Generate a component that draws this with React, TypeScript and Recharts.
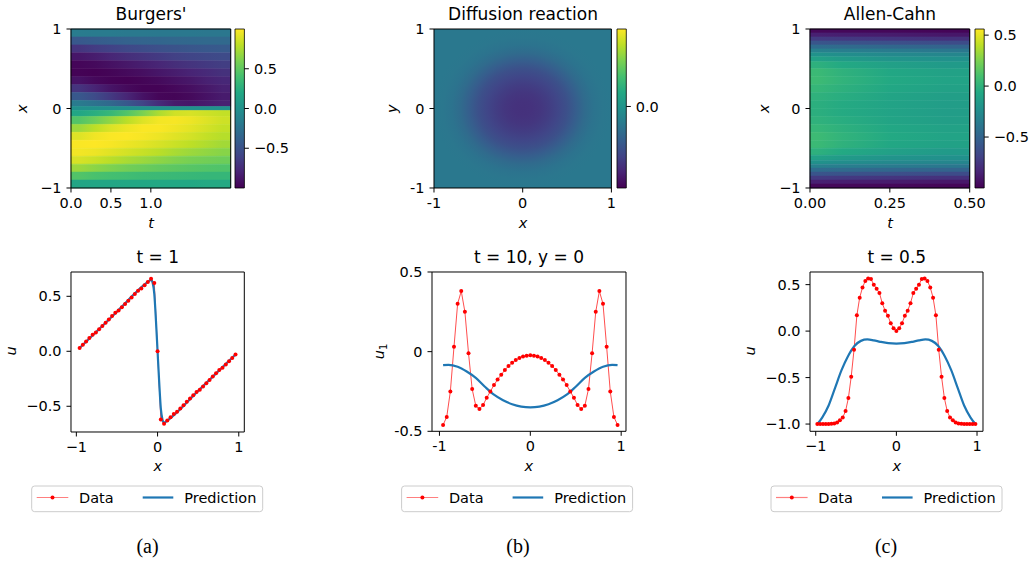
import React from "react"
import { ComposedChart, Line, XAxis, YAxis, ReferenceArea } from "recharts"

// ---------------- data ----------------

// Burgers' heatmap: column centres in t, row centres in x, u values (rows top -> bottom)
const burgersT = [0.1, 0.3, 0.5, 0.7, 0.9, 1.1, 1.3, 1.5, 1.7, 1.9]
const burgersX = [0.95, 0.85, 0.75, 0.65, 0.55, 0.45, 0.35, 0.25, 0.15, 0.05, 0, -0.05, -0.15, -0.25, -0.35, -0.45, -0.55, -0.65, -0.75, -0.85, -0.95]
const burgersU = [
  [-0.17, -0.18, -0.18, -0.19, -0.19, -0.2, -0.2, -0.2, -0.21, -0.21],
  [-0.45, -0.42, -0.4, -0.38, -0.36, -0.35, -0.34, -0.33, -0.32, -0.32],
  [-0.7, -0.65, -0.61, -0.57, -0.54, -0.51, -0.49, -0.47, -0.45, -0.44],
  [-0.88, -0.84, -0.79, -0.74, -0.7, -0.66, -0.62, -0.59, -0.57, -0.55],
  [-0.97, -0.95, -0.91, -0.87, -0.83, -0.79, -0.74, -0.7, -0.67, -0.64],
  [-0.99, -1.0, -0.98, -0.95, -0.92, -0.88, -0.84, -0.8, -0.76, -0.72],
  [-0.9, -0.96, -0.99, -1.0, -0.98, -0.95, -0.91, -0.87, -0.82, -0.78],
  [-0.7, -0.8, -0.89, -0.95, -0.99, -0.99, -0.96, -0.92, -0.87, -0.82],
  [-0.45, -0.55, -0.67, -0.79, -0.9, -0.97, -0.98, -0.95, -0.9, -0.85],
  [-0.18, -0.25, -0.33, -0.45, -0.6, -0.75, -0.86, -0.88, -0.85, -0.82],
  [0, 0, 0, 0, 0, 0, 0, 0, 0, 0],
  [0.18, 0.25, 0.33, 0.45, 0.6, 0.75, 0.86, 0.88, 0.85, 0.82],
  [0.45, 0.55, 0.67, 0.79, 0.9, 0.97, 0.98, 0.95, 0.9, 0.85],
  [0.7, 0.8, 0.89, 0.95, 0.99, 0.99, 0.96, 0.92, 0.87, 0.82],
  [0.9, 0.96, 0.99, 1.0, 0.98, 0.95, 0.91, 0.87, 0.82, 0.78],
  [0.99, 1.0, 0.98, 0.95, 0.92, 0.88, 0.84, 0.8, 0.76, 0.72],
  [0.97, 0.95, 0.91, 0.87, 0.83, 0.79, 0.74, 0.7, 0.67, 0.64],
  [0.88, 0.84, 0.79, 0.74, 0.7, 0.66, 0.62, 0.59, 0.57, 0.55],
  [0.7, 0.65, 0.61, 0.57, 0.54, 0.51, 0.49, 0.47, 0.45, 0.44],
  [0.45, 0.42, 0.4, 0.38, 0.36, 0.35, 0.34, 0.33, 0.32, 0.32],
  [0.17, 0.18, 0.18, 0.19, 0.19, 0.2, 0.2, 0.2, 0.21, 0.21],
]

// Diffusion reaction heatmap: radial profile of u around the centre
const diffusionR = [0, 0.1, 0.2, 0.3, 0.4, 0.5, 0.6, 0.7, 0.8, 0.9, 1.0]
const diffusionU = [-0.29, -0.287, -0.277, -0.26, -0.237, -0.21, -0.17, -0.13, -0.105, -0.092, -0.088]

// Allen-Cahn heatmap
const allenT = [0.025, 0.1, 0.25, 0.425]
const allenX = [0.975, 0.925, 0.875, 0.825, 0.775, 0.725, 0.675, 0.625, 0.55, 0.45, 0.35, 0.25, 0.15, 0.05, -0.05, -0.15, -0.25, -0.35, -0.45, -0.55, -0.625, -0.675, -0.725, -0.775, -0.825, -0.875, -0.925, -0.975]
const allenU = [
  [-0.97, -0.97, -0.97, -0.98],
  [-0.86, -0.87, -0.88, -0.9],
  [-0.73, -0.74, -0.76, -0.78],
  [-0.59, -0.6, -0.62, -0.64],
  [-0.45, -0.46, -0.48, -0.5],
  [-0.32, -0.34, -0.36, -0.38],
  [-0.21, -0.24, -0.27, -0.29],
  [-0.11, -0.15, -0.2, -0.22],
  [-0.01, -0.06, -0.12, -0.16],
  [0.05, 0.0, -0.07, -0.11],
  [0.06, 0.01, -0.06, -0.1],
  [0.03, -0.01, -0.07, -0.11],
  [0.0, -0.03, -0.09, -0.13],
  [-0.02, -0.05, -0.1, -0.14],
  [-0.02, -0.05, -0.1, -0.14],
  [0.0, -0.03, -0.09, -0.13],
  [0.03, -0.01, -0.07, -0.11],
  [0.06, 0.01, -0.06, -0.1],
  [0.05, 0.0, -0.07, -0.11],
  [-0.01, -0.06, -0.12, -0.16],
  [-0.11, -0.15, -0.2, -0.22],
  [-0.21, -0.24, -0.27, -0.29],
  [-0.32, -0.34, -0.36, -0.38],
  [-0.45, -0.46, -0.48, -0.5],
  [-0.59, -0.6, -0.62, -0.64],
  [-0.73, -0.74, -0.76, -0.78],
  [-0.86, -0.87, -0.88, -0.9],
  [-0.97, -0.97, -0.97, -0.98],
]

// line plots
const sampleX = [-0.96, -0.92, -0.88, -0.84, -0.8, -0.76, -0.72, -0.68, -0.64, -0.6, -0.56, -0.52, -0.48, -0.44, -0.4, -0.36, -0.32, -0.28, -0.24, -0.2, -0.16, -0.12, -0.08, -0.04, 0, 0.04, 0.08, 0.12, 0.16, 0.2, 0.24, 0.28, 0.32, 0.36, 0.4, 0.44, 0.48, 0.52, 0.56, 0.6, 0.64, 0.68, 0.72, 0.76, 0.8, 0.84, 0.88, 0.92, 0.96]

const burgersData = [0.03, 0.06, 0.09, 0.12, 0.15, 0.17, 0.2, 0.23, 0.26, 0.29, 0.32, 0.35, 0.37, 0.4, 0.43, 0.46, 0.49, 0.52, 0.55, 0.57, 0.6, 0.63, 0.66, 0.62, 0.0, -0.62, -0.66, -0.63, -0.6, -0.57, -0.55, -0.52, -0.49, -0.46, -0.43, -0.4, -0.37, -0.35, -0.32, -0.29, -0.26, -0.23, -0.2, -0.17, -0.15, -0.12, -0.09, -0.06, -0.03]
const burgersPredX = [-0.96, -0.5, -0.12, -0.08, -0.06, -0.04, -0.02, 0, 0.02, 0.04, 0.06, 0.08, 0.12, 0.5, 0.96]
const burgersPred = [0.03, 0.36, 0.63, 0.65, 0.62, 0.52, 0.28, 0, -0.28, -0.52, -0.62, -0.65, -0.63, -0.36, -0.03]

const diffusionData = [-0.46, -0.41, -0.25, 0.03, 0.3, 0.38, 0.25, -0.01, -0.235, -0.34, -0.36, -0.335, -0.29, -0.25, -0.21, -0.175, -0.145, -0.115, -0.09, -0.07, -0.053, -0.04, -0.03, -0.025, -0.023, -0.025, -0.03, -0.04, -0.053, -0.07, -0.09, -0.115, -0.145, -0.175, -0.21, -0.25, -0.29, -0.335, -0.36, -0.34, -0.235, -0.01, 0.25, 0.38, 0.3, 0.03, -0.25, -0.41, -0.46]
const diffusionPredX = [-0.96, -0.9, -0.8, -0.7, -0.6, -0.5, -0.4, -0.3, -0.2, -0.1, 0, 0.1, 0.2, 0.3, 0.4, 0.5, 0.6, 0.7, 0.8, 0.9, 0.96]
const diffusionPred = [-0.085, -0.083, -0.095, -0.125, -0.165, -0.22, -0.27, -0.305, -0.33, -0.345, -0.35, -0.345, -0.33, -0.305, -0.27, -0.22, -0.165, -0.125, -0.095, -0.083, -0.085]

const allenDataX = [-0.98, -0.945, -0.91, -0.875, -0.84, -0.805, -0.77, -0.735, -0.7, -0.665, -0.63, -0.595, -0.56, -0.525, -0.49, -0.455, -0.42, -0.385, -0.35, -0.315, -0.28, -0.245, -0.21, -0.175, -0.14, -0.105, -0.07, -0.035, 0, 0.035, 0.07, 0.105, 0.14, 0.175, 0.21, 0.245, 0.28, 0.315, 0.35, 0.385, 0.42, 0.455, 0.49, 0.525, 0.56, 0.595, 0.63, 0.665, 0.7, 0.735, 0.77, 0.805, 0.84, 0.875, 0.91, 0.945, 0.98]
const allenData = [-1.0, -1.0, -1.0, -1.0, -0.999, -0.998, -0.994, -0.983, -0.96, -0.93, -0.86, -0.72, -0.49, -0.2, 0.17, 0.36, 0.47, 0.54, 0.565, 0.56, 0.5, 0.455, 0.41, 0.3, 0.22, 0.165, 0.085, 0.03, 0.0, 0.03, 0.085, 0.165, 0.22, 0.3, 0.41, 0.455, 0.5, 0.56, 0.565, 0.54, 0.47, 0.36, 0.17, -0.2, -0.49, -0.72, -0.86, -0.93, -0.96, -0.983, -0.994, -0.998, -0.999, -1.0, -1.0, -1.0, -1.0]
const allenPredX = [-0.98, -0.92, -0.84, -0.76, -0.68, -0.6, -0.52, -0.44, -0.36, -0.28, -0.2, -0.1, 0, 0.1, 0.2, 0.28, 0.36, 0.44, 0.52, 0.6, 0.68, 0.76, 0.84, 0.92, 0.98]
const allenPred = [-1.0, -0.93, -0.8, -0.61, -0.42, -0.27, -0.16, -0.105, -0.09, -0.1, -0.115, -0.13, -0.135, -0.13, -0.115, -0.1, -0.09, -0.105, -0.16, -0.27, -0.42, -0.61, -0.8, -0.93, -1.0]

// ---------------- helpers ----------------

const VIRIDIS = ["#440154", "#482475", "#414487", "#355f8d", "#2a788e", "#21918c", "#22a884", "#44bf70", "#7ad151", "#bddf26", "#fde725"]

function hexRgb(h: string) {
  return [1, 3, 5].map((i) => parseInt(h.slice(i, i + 2), 16))
}

function viridis(v: number, vmin: number, vmax: number) {
  const t = Math.max(0, Math.min(1, (v - vmin) / (vmax - vmin))) * 10
  const i = Math.min(9, Math.floor(t))
  const f = t - i
  const a = hexRgb(VIRIDIS[i])
  const b = hexRgb(VIRIDIS[i + 1])
  const c = a.map((x, k) => Math.round(x + (b[k] - x) * f))
  return `rgb(${c[0]},${c[1]},${c[2]})`
}

function rowBounds(centers: number[], lo: number, hi: number) {
  return centers.map((c, i) => {
    const up = i === 0 ? hi : (centers[i - 1] + c) / 2
    const down = i === centers.length - 1 ? lo : (centers[i + 1] + c) / 2
    return [down, up]
  })
}

const zip = (xs: number[], us: number[]) => xs.map((x, i) => ({ x, u: us[i] }))

const minus = (s: string) => s.replace("-", "\u2212")
const fmt = (digits: number, uni = true) => (v: number) => {
  const s = v === 0 && digits === 0 ? "0" : v.toFixed(digits)
  return uni ? minus(s) : s
}

const FONT = '"DejaVu Sans", sans-serif'
const YW = 60
const XH = 40
const MT = 12
const MR = 32

const axisStyle = {
  axisLine: false,
  stroke: "#000",
  tickSize: 4.5,
  tickMargin: 5,
  tick: { fill: "#000", fontSize: 14.5 },
  interval: 0 as const,
  allowDataOverflow: true,
}

type Box = { x: number; y: number; w: number; h: number }

function Panel(props: {
  box: Box
  xDomain: [number, number]
  yDomain: [number, number]
  xTicks: number[]
  yTicks: number[]
  fx: (v: number) => string
  fy: (v: number) => string
  children: React.ReactNode
}) {
  const { box, xDomain, yDomain } = props
  return (
    <div style={{ position: "absolute", left: box.x - YW, top: box.y - MT }}>
      <ComposedChart
        width={YW + box.w + MR}
        height={MT + box.h + XH}
        margin={{ top: MT, right: MR, bottom: 0, left: 0 }}
        data={[{ x: xDomain[0], u: yDomain[0] }]}
      >
        <XAxis type="number" dataKey="x" domain={xDomain} ticks={props.xTicks} tickFormatter={props.fx} height={XH} {...axisStyle} />
        <YAxis type="number" dataKey="u" domain={yDomain} ticks={props.yTicks} tickFormatter={props.fy} width={YW} {...axisStyle} />
        {props.children}
        <ReferenceArea
          x1={xDomain[0]}
          x2={xDomain[1]}
          y1={yDomain[0]}
          y2={yDomain[1]}
          fill="none"
          stroke="#000"
          strokeWidth={1}
          ifOverflow="visible"
        />
      </ComposedChart>
    </div>
  )
}

function Colorbar(props: { box: Box; id: string; vmin: number; vmax: number; ticks: number[] }) {
  const { box, vmin, vmax } = props
  return (
    <div style={{ position: "absolute", left: box.x - 2, top: box.y - MT }}>
      <ComposedChart
        width={2 + box.w + 50}
        height={MT + box.h + 10}
        margin={{ top: MT, right: 0, bottom: 10, left: 2 }}
        data={[{ x: 0, u: vmin }]}
      >
        <XAxis type="number" dataKey="x" domain={[0, 1]} hide />
        <YAxis type="number" dataKey="u" orientation="right" domain={[vmin, vmax]} ticks={props.ticks} tickFormatter={fmt(1)} width={50} {...axisStyle} />
        <ReferenceArea x1={0} x2={1} y1={vmin} y2={vmax} fill={`url(#${props.id})`} fillOpacity={1} stroke="#000" strokeWidth={0.8} ifOverflow="visible" />
      </ComposedChart>
    </div>
  )
}

// ---------------- layout ----------------

const TOP: Box[] = [
  { x: 71, y: 29.3, w: 159.7, h: 159 },
  { x: 434.3, y: 29.3, w: 177.4, h: 159 },
  { x: 810.3, y: 29.3, w: 159.7, h: 159 },
]
const BARS: Box[] = [
  { x: 235.3, y: 29.3, w: 9.4, h: 159 },
  { x: 616.7, y: 29.3, w: 9.3, h: 159 },
  { x: 975, y: 29.3, w: 9.2, h: 159 },
]
const BOTTOM: Box[] = [
  { x: 71, y: 271.7, w: 173.3, h: 160 },
  { x: 431.7, y: 271.7, w: 194, h: 159.3 },
  { x: 810.3, y: 271.7, w: 173, h: 159.3 },
]
const LEGEND_LEFT = [31.7, 401.6, 771]
const RED = "#ff0000"
const BLUE = "#1f77b4"

export default function App() {
  const bRows = rowBounds(burgersX, -1, 1)
  const aRows = rowBounds(allenX, -1, 1)
  const redDot = { r: 2, fill: RED, stroke: "none" }

  return (
    <div style={{ position: "absolute", left: 0, top: 0, width: 1029, height: 561, background: "#fff", fontFamily: FONT }}>
      <svg width={0} height={0} style={{ position: "absolute" }}>
        <defs>
          {burgersU.map((row, i) => (
            <linearGradient key={i} id={`bg-${i}`} x1="0" y1="0" x2="1" y2="0">
              {row.map((u, k) => (
                <stop key={k} offset={burgersT[k] / 2} stopColor={viridis(u, -1, 1)} />
              ))}
            </linearGradient>
          ))}
          {allenU.map((row, i) => (
            <linearGradient key={i} id={`ag-${i}`} x1="0" y1="0" x2="1" y2="0">
              {row.map((u, k) => (
                <stop key={k} offset={allenT[k] / 0.5} stopColor={viridis(u, -1, 0.56)} />
              ))}
            </linearGradient>
          ))}
          <radialGradient id="dg" cx="0.5" cy="0.5" r="0.5">
            {diffusionR.map((r, k) => (
              <stop key={k} offset={r} stopColor={viridis(diffusionU[k], -0.4, 0.38)} />
            ))}
          </radialGradient>
          {["cb0", "cb1", "cb2"].map((id) => (
            <linearGradient key={id} id={id} x1="0" y1="1" x2="0" y2="0">
              {VIRIDIS.map((c, k) => (
                <stop key={k} offset={k / 10} stopColor={c} />
              ))}
            </linearGradient>
          ))}
        </defs>
      </svg>

      {/* Burgers' heatmap */}
      <Panel box={TOP[0]} xDomain={[0, 2]} yDomain={[-1, 1]} xTicks={[0, 0.5, 1]} yTicks={[-1, 0, 1]} fx={fmt(1)} fy={fmt(0)}>
        {bRows.map(([lo, hi], i) => (
          <ReferenceArea key={i} x1={0} x2={2} y1={lo} y2={hi} fill={`url(#bg-${i})`} fillOpacity={1} stroke={`url(#bg-${i})`} strokeWidth={0.6} />
        ))}
      </Panel>
      <Colorbar box={BARS[0]} id="cb0" vmin={-1} vmax={1} ticks={[-0.5, 0, 0.5]} />

      {/* Diffusion reaction heatmap */}
      <Panel box={TOP[1]} xDomain={[-1, 1]} yDomain={[-1, 1]} xTicks={[-1, 0, 1]} yTicks={[-1, 0, 1]} fx={fmt(0, false)} fy={fmt(0, false)}>
        <ReferenceArea x1={-1} x2={1} y1={-1} y2={1} fill="url(#dg)" fillOpacity={1} stroke="none" />
      </Panel>
      <Colorbar box={BARS[1]} id="cb1" vmin={-0.4} vmax={0.38} ticks={[0]} />

      {/* Allen-Cahn heatmap */}
      <Panel box={TOP[2]} xDomain={[0, 0.5]} yDomain={[-1, 1]} xTicks={[0, 0.25, 0.5]} yTicks={[-1, 0, 1]} fx={fmt(2)} fy={fmt(0)}>
        {aRows.map(([lo, hi], i) => (
          <ReferenceArea key={i} x1={0} x2={0.5} y1={lo} y2={hi} fill={`url(#ag-${i})`} fillOpacity={1} stroke={`url(#ag-${i})`} strokeWidth={0.6} />
        ))}
      </Panel>
      <Colorbar box={BARS[2]} id="cb2" vmin={-1} vmax={0.56} ticks={[-0.5, 0, 0.5]} />

      {/* line plots */}
      <Panel box={BOTTOM[0]} xDomain={[-1.066, 1.068]} yDomain={[-0.734, 0.721]} xTicks={[-1, 0, 1]} yTicks={[-0.5, 0, 0.5]} fx={fmt(0)} fy={fmt(1)}>
        <Line data={zip(sampleX, burgersData)} dataKey="u" type="linear" stroke={RED} strokeOpacity={0.7} strokeWidth={1} dot={redDot} activeDot={false} isAnimationActive={false} />
        <Line data={zip(burgersPredX, burgersPred)} dataKey="u" type="monotone" stroke={BLUE} strokeWidth={2.2} dot={false} activeDot={false} isAnimationActive={false} />
      </Panel>
      <Panel box={BOTTOM[1]} xDomain={[-1.082, 1.053]} yDomain={[-0.5, 0.5]} xTicks={[-1, 0, 1]} yTicks={[-0.5, 0, 0.5]} fx={fmt(0, false)} fy={(v) => (v === 0 ? "0" : v.toFixed(1))}>
        <Line data={zip(sampleX, diffusionData)} dataKey="u" type="linear" stroke={RED} strokeOpacity={0.7} strokeWidth={1} dot={redDot} activeDot={false} isAnimationActive={false} />
        <Line data={zip(diffusionPredX, diffusionPred)} dataKey="u" type="monotone" stroke={BLUE} strokeWidth={2.2} dot={false} activeDot={false} isAnimationActive={false} />
      </Panel>
      <Panel box={BOTTOM[2]} xDomain={[-1.071, 1.074]} yDomain={[-1.078, 0.636]} xTicks={[-1, 0, 1]} yTicks={[-1, -0.5, 0, 0.5]} fx={fmt(0)} fy={fmt(1)}>
        <Line data={zip(allenDataX, allenData)} dataKey="u" type="linear" stroke={RED} strokeOpacity={0.7} strokeWidth={1} dot={redDot} activeDot={false} isAnimationActive={false} />
        <Line data={zip(allenPredX, allenPred)} dataKey="u" type="monotone" stroke={BLUE} strokeWidth={2.2} dot={false} activeDot={false} isAnimationActive={false} />
      </Panel>

      {/* titles, axis labels, legends, captions */}
      <svg width={1029} height={561} style={{ position: "absolute", left: 0, top: 0, pointerEvents: "none" }}>
        <g fontSize={17} textAnchor="middle" fill="#000">
          <text x={151} y={20}>Burgers'</text>
          <text x={523} y={20}>Diffusion reaction</text>
          <text x={890} y={20}>Allen-Cahn</text>
          <text x={157.7} y={263}>t = 1</text>
          <text x={529} y={262.5}>t = 10, y = 0</text>
          <text x={896.8} y={263}>t = 0.5</text>
        </g>
        <g fontSize={14.5} fontStyle="italic" textAnchor="middle" fill="#000">
          <text x={151} y={227.5}>t</text>
          <text x={523} y={228}>x</text>
          <text x={890} y={227.5}>t</text>
          <text x={157.7} y={471}>x</text>
          <text x={528.7} y={471}>x</text>
          <text x={896.8} y={471}>x</text>
          <text transform="translate(26.5,108.8) rotate(-90)">x</text>
          <text transform="translate(397,108.8) rotate(-90)">y</text>
          <text transform="translate(769,108.8) rotate(-90)">x</text>
          <text transform="translate(16,351) rotate(-90)">u</text>
          <text transform="translate(383.5,351.4) rotate(-90)">
            u
            <tspan fontStyle="normal" fontSize={10} dy={3}>
              1
            </tspan>
          </text>
          <text transform="translate(755,351) rotate(-90)">u</text>
        </g>
        {LEGEND_LEFT.map((lx) => (
          <g key={lx} fontSize={14.5} fill="#000">
            <rect x={lx} y={486} width={231} height={25.7} rx={3} fill="#fff" stroke="#cccccc" strokeWidth={1} />
            <line x1={lx + 5} x2={lx + 36.6} y1={497.5} y2={497.5} stroke={RED} strokeOpacity={0.5} strokeWidth={1.2} />
            <circle cx={lx + 20.8} cy={497.5} r={2} fill={RED} />
            <text x={lx + 47.3} y={503}>Data</text>
            <line x1={lx + 111} x2={lx + 141.6} y1={497.5} y2={497.5} stroke={BLUE} strokeWidth={2.2} />
            <text x={lx + 152.6} y={503}>Prediction</text>
          </g>
        ))}
        <g fontFamily='"Liberation Serif", serif' fontSize={20} textAnchor="middle" fill="#000">
          <text x={147.5} y={553}>(a)</text>
          <text x={518} y={553}>(b)</text>
          <text x={886} y={553}>(c)</text>
        </g>
      </svg>
    </div>
  )
}
